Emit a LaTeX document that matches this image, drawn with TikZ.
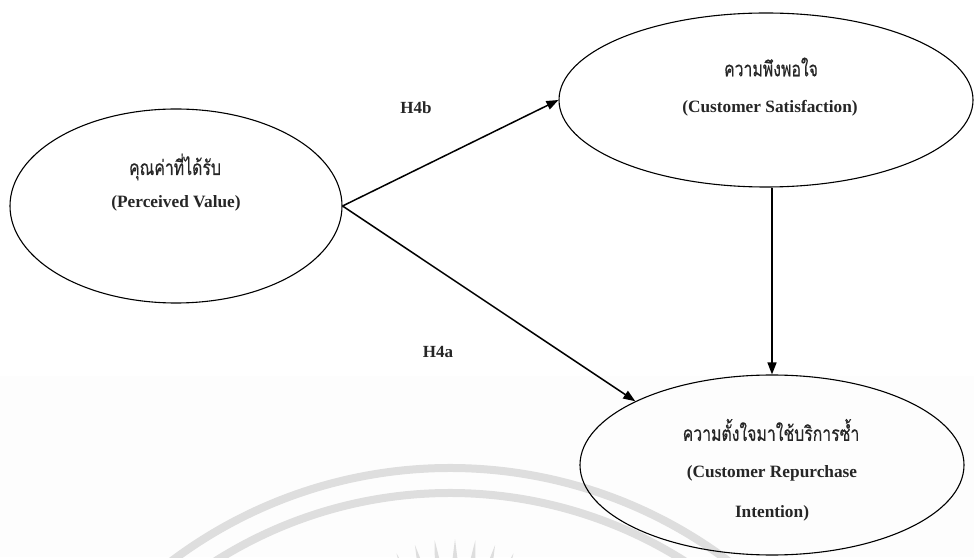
\documentclass[tikz,border=0pt]{standalone}
\usepackage{fontspec}
\setmainfont{Liberation Serif}
\newfontfamily\thaifont[Script=Thai,FakeBold=0.5]{Loma}
\usetikzlibrary{arrows.meta,shapes.geometric,calc}
% Thai captions are set narrow and tall
\newcommand{\thaicap}[1]{\scalebox{0.93}[1.22]{\thaifont #1}}

\begin{document}
\begin{tikzpicture}[x=1pt,y=1pt,
  construct/.style={draw=black,line width=1.1pt,ellipse,inner sep=0pt},
  entxt/.style={font=\fontsize{17.3}{20}\selectfont\bfseries,text=black!85,inner sep=0pt},
  thtxt/.style={font=\fontsize{17}{20}\selectfont,text=black!85,inner sep=0pt},
  hyp/.style={font=\fontsize{17}{20}\selectfont\bfseries,text=black!85,inner sep=0pt},
  path/.style={line width=1.5pt,-{Triangle[length=12pt,width=9pt]}},
  wm/.style={draw=black!13,line width=8pt},
  ray/.style={fill=black!13,draw=none}]
  % page and the faint lower band
  \useasboundingbox (0,0) rectangle (974,557);
  \fill[white] (0,0) rectangle (974,557);
  \fill[black!0.7] (0,0) rectangle (974,181);

  % watermark seal: two arcs and rays
  \coordinate (seal) at (450,-374);
  \coordinate (sun) at (455,-143);
  \begin{scope}
    \clip (0,0) rectangle (974,557);
    \draw[wm] ($(seal)+(143:463)$) arc[start angle=143,end angle=40,radius=463];
    \draw[wm] ($(seal)+(143:438)$) arc[start angle=143,end angle=40,radius=438];
    \foreach \a/\r in {61/155,68.25/158,75.5/160,82.75/161,90/161,97.25/161,104.5/160,111.75/158,119/155} {
      \fill[ray] ($(sun)+(\a:135)+(\a+90:3.2)$) -- ($(sun)+(\a:\r)$) -- ($(sun)+(\a:135)+(\a-90:3.2)$) -- cycle;
    }
  \end{scope}

  % constructs
  \node[construct,minimum width=332pt,minimum height=194pt] (pv) at (176,351) {};
  \node[construct,minimum width=414pt,minimum height=174pt] (cs) at (766,457) {};
  \node[construct,minimum width=384pt,minimum height=180pt] (ri) at (772,92) {};

  % construct labels
  \node[thtxt] (pvth) at (175,390) {\thaicap{คุณค่าที่ได้รับ}};
  \node[entxt] (pven) at (176,354) {(Perceived Value)};
  \node[thtxt] (csth) at (771,490) {\thaicap{ความพึงพอใจ}};
  \node[entxt] (csen) at (770,449) {(Customer Satisfaction)};
  \node[thtxt] (rith) at (771,127) {\thaicap{ความตั้งใจมาใช้บริการซ้ำ}};
  \node[entxt] (rien1) at (772,84) {(Customer Repurchase};
  \node[entxt] (rien2) at (772,44) {Intention)};

  % hypothesised paths
  \draw[path] (pv.east) -- (cs.west);
  \draw[path] (pv.east) -- (ri.155);
  \draw[path] (ri.north |- cs.south) -- (ri.north);

  \node[hyp] (h4b) at (416,449) {H4b};
  \node[hyp] (h4a) at (438,205) {H4a};
\end{tikzpicture}
\end{document}
